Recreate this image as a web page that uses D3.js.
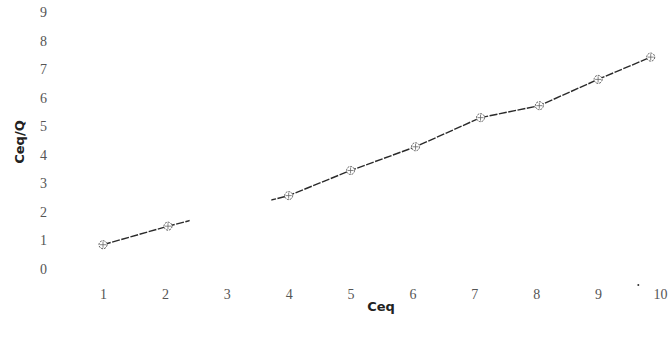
<!DOCTYPE html>
<html>
<head>
<meta charset="utf-8">
<script src="https://cdn.jsdelivr.net/npm/d3@7"></script>
<style>
  body { margin: 0; background: #fff; }
  .tick text { font-family: "Liberation Serif", serif; }
</style>
</head>
<body>
<div id="chart"></div>
<script>
// values
const ceq = [1.0, 2.05, 4.0, 5.0, 6.05, 7.1, 8.05, 9.0, 9.85];
const ceqOverQ = [0.85, 1.5, 2.57, 3.45, 4.28, 5.3, 5.72, 6.64, 7.42];
const xTicks = [1, 2, 3, 4, 5, 6, 7, 8, 9, 10];
const yTicks = [0, 1, 2, 3, 4, 5, 6, 7, 8, 9];
// faded part of the line in the scan (in Ceq units)
const fadeFrom = 2.4, fadeTo = 3.72;

const width = 671, height = 347;

const svg = d3.select('#chart')
  .append('svg')
  .attr('width', width)
  .attr('height', height);

const x = d3.scaleLinear().domain([1, 10]).range([103, 660]);
const y = d3.scaleLinear().domain([0, 9]).range([269, 12]);

// x labels only, no axis line
const gx = svg.append('g')
  .attr('transform', 'translate(0,286)')
  .call(d3.axisBottom(x).tickValues(xTicks).tickSize(0).tickFormat(d3.format('d')));
gx.select('.domain').remove();
gx.selectAll('text').attr('fill', '#555').attr('font-size', 14);

const gy = svg.append('g')
  .attr('transform', 'translate(50,0)')
  .call(d3.axisLeft(y).tickValues(yTicks).tickSize(0));
gy.select('.domain').remove();
gy.selectAll('text').attr('fill', '#555').attr('font-size', 14);

// axis titles
svg.append('text')
  .attr('x', 381).attr('y', 311)
  .attr('text-anchor', 'middle')
  .attr('font-family', 'DejaVu Sans, sans-serif')
  .attr('font-size', 13).attr('font-weight', 'bold')
  .attr('fill', '#222')
  .text('Ceq');

svg.append('text')
  .attr('transform', 'translate(24,142) rotate(-90)')
  .attr('text-anchor', 'middle')
  .attr('font-family', 'DejaVu Sans, sans-serif')
  .attr('font-size', 13).attr('font-weight', 'bold')
  .attr('fill', '#222')
  .text('Ceq/Q');

// clip out the faded stretch
const clip = svg.append('clipPath').attr('id', 'fade');
clip.append('rect').attr('x', 0).attr('y', 0).attr('width', x(fadeFrom)).attr('height', height);
clip.append('rect').attr('x', x(fadeTo)).attr('y', 0).attr('width', width - x(fadeTo)).attr('height', height);

const pts = ceq.map((c, i) => [c, ceqOverQ[i]]);

const line = d3.line()
  .x(d => x(d[0]))
  .y(d => y(d[1]));

svg.append('path')
  .datum(pts)
  .attr('d', line)
  .attr('fill', 'none')
  .attr('stroke', '#2a2a2a')
  .attr('stroke-width', 1.4)
  .attr('stroke-dasharray', '8,1.5')
  .attr('clip-path', 'url(#fade)');

// markers: circle with a cross
const m = svg.append('g').selectAll('g')
  .data(pts)
  .join('g')
  .attr('transform', d => `translate(${x(d[0])},${y(d[1])})`);

m.append('circle')
  .attr('r', 4)
  .attr('fill', '#fff')
  .attr('stroke', '#555')
  .attr('stroke-width', 1)
  .attr('stroke-dasharray', '2,1');

m.append('path')
  .attr('d', 'M-3,0H3M0,-3V3')
  .attr('stroke', '#666')
  .attr('stroke-width', 0.8);

// small speck in the scan
svg.append('circle')
  .attr('cx', x(9.65)).attr('cy', 285).attr('r', 1)
  .attr('fill', '#333');
</script>
</body>
</html>
